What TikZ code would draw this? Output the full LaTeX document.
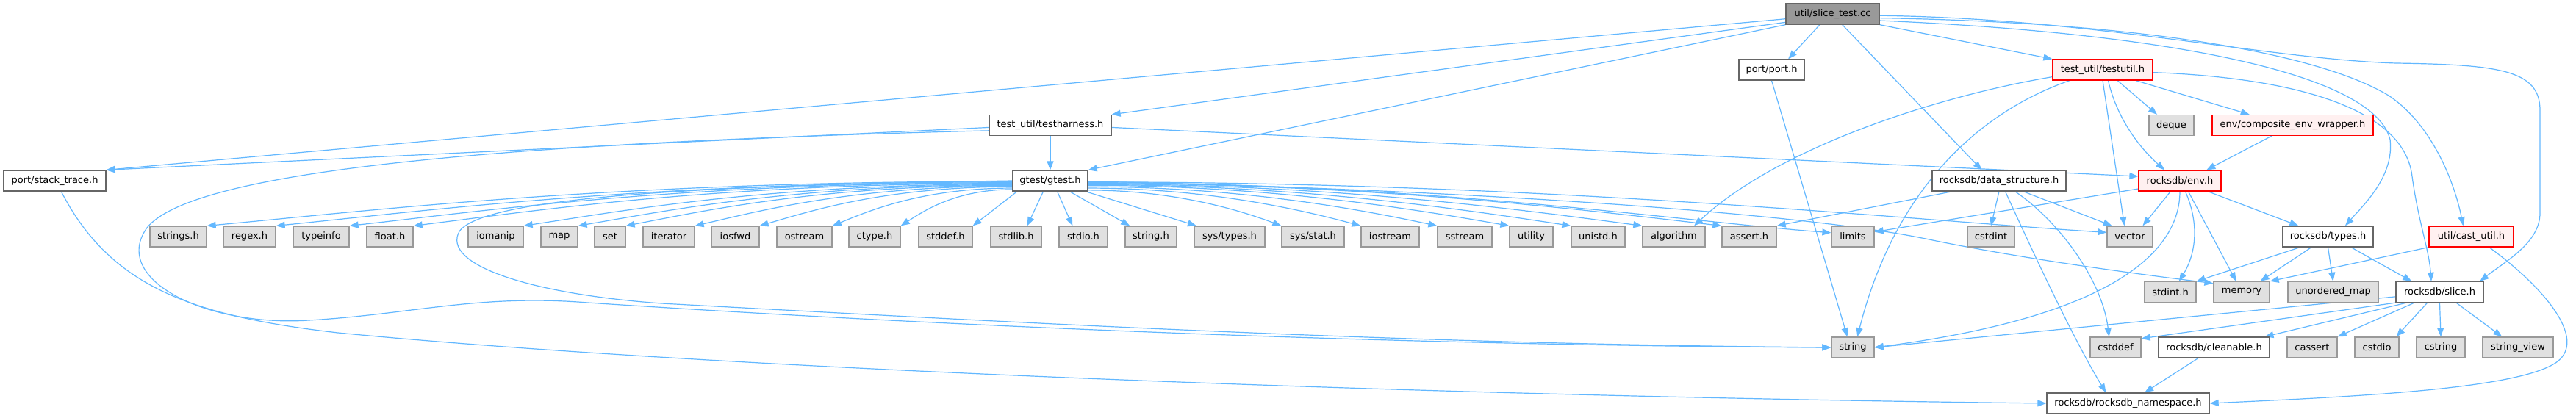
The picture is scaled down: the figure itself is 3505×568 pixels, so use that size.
\documentclass[tikz,border=0pt]{standalone}
\usepackage{fontspec}
\setmainfont{DejaVu Sans}
\usetikzlibrary{arrows.meta}
\definecolor{edgec}{HTML}{63B8FF}
\definecolor{greyfill}{HTML}{E0E0E0}
\definecolor{greyline}{HTML}{999999}
\definecolor{darkline}{HTML}{666666}
\definecolor{redfill}{HTML}{FFF0F0}
\definecolor{redline}{HTML}{FF0000}
\definecolor{rootfill}{HTML}{999999}
\pgfdeclarelayer{bg}
\pgfsetlayers{bg,main}
\begin{document}
\begin{tikzpicture}[x=1pt,y=-1pt,
 box/.style={rectangle, minimum height=28pt, inner sep=0pt, line width=1.3pt, font=\fontsize{13}{15}\selectfont, text=black},
 greybox/.style={box, fill=greyfill, draw=greyline},
 whitebox/.style={box, fill=white, draw=darkline},
 redbox/.style={box, fill=redfill, draw=redline},
 rootbox/.style={box, fill=rootfill, draw=darkline},
 edge/.style={draw=edgec, line width=1.2pt, -{Triangle[length=12pt,width=9pt]}}
]
\useasboundingbox (0,0) rectangle (3505,568);
% row 0
\node[rootbox, minimum width=127pt] (root) at (2493.5,19) {util/slice\_test.cc};
% row 1
\node[whitebox, minimum width=89pt] (port) at (2410.5,95) {port/port.h};
\node[redbox, minimum width=136pt] (testutil) at (2861,95) {test\_util/testutil.h};
% row 2
\node[whitebox, minimum width=166pt] (harness) at (1429,170.5) {test\_util/testharness.h};
\node[greybox, minimum width=61pt] (deque) at (2954.5,170.5) {deque};
\node[redbox, minimum width=219pt] (composite) at (3119.5,170.5) {env/composite\_env\_wrapper.h};
% row 3
\node[whitebox, minimum width=139pt] (stack) at (74.5,246) {port/stack\_trace.h};
\node[whitebox, minimum width=102pt] (gtest) at (1429,246) {gtest/gtest.h};
\node[whitebox, minimum width=182pt] (ds) at (2720,246) {rocksdb/data\_structure.h};
\node[redbox, minimum width=112pt] (env) at (2966,246) {rocksdb/env.h};
% row 4
\node[greybox, minimum width=77pt] (strings) at (242.5,322) {strings.h};
\node[greybox, minimum width=71pt] (regex) at (339.5,322) {regex.h};
\node[greybox, minimum width=76pt] (typeinfo) at (437,322) {typeinfo};
\node[greybox, minimum width=63pt] (floath) at (530.5,322) {float.h};
\node[greybox, minimum width=75pt] (iomanip) at (674.5,322) {iomanip};
\node[greybox, minimum width=50pt] (map) at (761,322) {map};
\node[greybox, minimum width=42pt] (set) at (830,322) {set};
\node[greybox, minimum width=70pt] (iterator) at (910,322) {iterator};
\node[greybox, minimum width=65pt] (iosfwd) at (1000.5,322) {iosfwd};
\node[greybox, minimum width=75pt] (ostream) at (1094.5,322) {ostream};
\node[greybox, minimum width=70pt] (ctype) at (1190,322) {ctype.h};
\node[greybox, minimum width=73pt] (stddef) at (1286.5,322) {stddef.h};
\node[greybox, minimum width=69pt] (stdlib) at (1382.5,322) {stdlib.h};
\node[greybox, minimum width=66pt] (stdio) at (1474,322) {stdio.h};
\node[greybox, minimum width=70pt] (stringh) at (1566,322) {string.h};
\node[greybox, minimum width=96pt] (systypes) at (1673,322) {sys/types.h};
\node[greybox, minimum width=85pt] (sysstat) at (1786.5,322) {sys/stat.h};
\node[greybox, minimum width=79pt] (iostream) at (1891.5,322) {iostream};
\node[greybox, minimum width=74pt] (sstream) at (1993,322) {sstream};
\node[greybox, minimum width=59pt] (utility) at (2083.5,322) {utility};
\node[greybox, minimum width=73pt] (unistd) at (2174.5,322) {unistd.h};
\node[greybox, minimum width=85pt] (algorithm) at (2277.5,322) {algorithm};
\node[greybox, minimum width=74pt] (asserth) at (2380,322) {assert.h};
\node[greybox, minimum width=58pt] (limits) at (2521,322) {limits};
\node[greybox, minimum width=64pt] (cstdint) at (2709,322) {cstdint};
\node[greybox, minimum width=62pt] (vector) at (2898,322) {vector};
\node[whitebox, minimum width=123pt] (types) at (3167.5,322) {rocksdb/types.h};
\node[redbox, minimum width=115pt] (cast) at (3362.5,322) {util/cast\_util.h};
% row 5
\node[greybox, minimum width=70pt] (stdint) at (2953,397.5) {stdint.h};
\node[greybox, minimum width=76pt] (memory) at (3050,397.5) {memory};
\node[greybox, minimum width=123pt] (umap) at (3174.5,397.5) {unordered\_map};
\node[whitebox, minimum width=119pt] (slice) at (3319.5,397.5) {rocksdb/slice.h};
% row 6
\node[greybox, minimum width=58pt] (string) at (2521,473) {string};
\node[greybox, minimum width=69pt] (cstddef) at (2878.5,473) {cstddef};
\node[whitebox, minimum width=151pt] (cleanable) at (3012.5,473) {rocksdb/cleanable.h};
\node[greybox, minimum width=68pt] (cassert) at (3146,473) {cassert};
\node[greybox, minimum width=60pt] (cstdio) at (3234,473) {cstdio};
\node[greybox, minimum width=66pt] (cstring) at (3321,473) {cstring};
\node[greybox, minimum width=96pt] (strview) at (3426,473) {string\_view};
% row 7
\node[whitebox, minimum width=221pt] (ns) at (2895.5,549) {rocksdb/rocksdb\_namespace.h};

\begin{pgfonlayer}{bg}
\fill[white] (0,0) rectangle (3505,568);
% util/slice_test.cc
\draw[edge] (root.186) -- (stack.north east);
\draw[edge] (root.190) -- (harness.north east);
\draw[edge] (root.south west) -- (gtest.north east);
\draw[edge] (root.220) -- (port.33);
\draw[edge] (root.312) -- (ds.148);
\draw[edge] (root.south east) -- (testutil.north west);
\draw[edge] (root.358) .. controls (2850,25) and (3080,80) .. (3260,86) .. controls (3400,88) and (3456,95) .. (3456,150) -- (3456,290) .. controls (3456,330) and (3410,355) .. (slice.15);
\draw[edge] (root.355) .. controls (2900,30) and (3150,70) .. (3250,130) .. controls (3310,170) and (3340,250) .. (cast.127);
\draw[edge] (root.352) .. controls (2950,45) and (3230,100) .. (3252,190) .. controls (3258,240) and (3215,280) .. (types.32);
% testharness
\draw[edge] (harness.182) -- (stack.north east);
\draw[edge] (harness.south) -- (gtest.north);
\draw[edge] (harness.358) -- (env.174);
\draw[edge] (harness.185) .. controls (650,195) and (260,235) .. (200,310) .. controls (150,380) and (280,445) .. (420,436) .. controls (560,428) and (650,400) .. (800,412) .. controls (1300,445) and (1900,470) .. (string.west);
% stack trace
\draw[edge] (stack.301) .. controls (150,390) and (260,430) .. (460,453) .. controls (1000,505) and (2000,540) .. (ns.west);
% gtest left fan
\draw[edge] (gtest.181) .. controls +(-549,0) and +(219,-20) .. (strings.north east);
\draw[edge] (gtest.182) .. controls +(-502,0) and +(201,-20) .. (regex.north east);
\draw[edge] (gtest.183) .. controls +(-452,0) and +(181,-20) .. (typeinfo.north east);
\draw[edge] (gtest.184) .. controls +(-408,0) and +(163,-20) .. (floath.north east);
\draw[edge] (gtest.185) .. controls +(-333,0) and +(133,-20) .. (iomanip.north east);
\draw[edge] (gtest.186) .. controls +(-296,0) and +(118,-20) .. (map.north east);
\draw[edge] (gtest.187) .. controls +(-264,0) and +(105,-20) .. (set.north east);
\draw[edge] (gtest.188) .. controls +(-217,0) and +(87,-20) .. (iterator.north east);
\draw[edge] (gtest.189) .. controls +(-173,0) and +(69,-20) .. (iosfwd.north east);
\draw[edge] (gtest.191) .. controls +(-123,0) and +(49,-20) .. (ostream.north east);
\draw[edge] (gtest.193) .. controls +(-77,0) and +(31,-20) .. (ctype.north east);
\draw[edge] (gtest.180) .. controls (1000,252) and (660,265) .. (625,315) .. controls (600,360) and (720,400) .. (900,413) .. controls (1400,440) and (1900,468) .. (string.west);
% gtest down
\draw[edge] (gtest.198) -- (stddef.north east);
\draw[edge] (gtest.237) -- (stdlib.44);
\draw[edge] (gtest.303) -- (stdio.135);
\draw[edge] (gtest.331) -- (stringh.153);
\draw[edge] (gtest.343) -- (systypes.162);
% gtest right fan
\draw[edge] (gtest.346) .. controls +(119,0) and +(-53,-20) .. (sysstat.north west);
\draw[edge] (gtest.349) .. controls +(167,0) and +(-74,-20) .. (iostream.north west);
\draw[edge] (gtest.351) .. controls +(214,0) and +(-95,-20) .. (sstream.north west);
\draw[edge] (gtest.353) .. controls +(258,0) and +(-115,-20) .. (utility.north west);
\draw[edge] (gtest.354) .. controls +(296,0) and +(-132,-20) .. (unistd.north west);
\draw[edge] (gtest.355) .. controls +(340,0) and +(-151,-20) .. (algorithm.north west);
\draw[edge] (gtest.356) .. controls +(388,0) and +(-173,-20) .. (asserth.north west);
\draw[edge] (gtest.357) .. controls +(455,0) and +(-200,-15) .. (limits.170);
\draw[edge] (gtest.358) .. controls +(620,0) and +(-280,-18) .. (vector.170);
\draw[edge] (gtest.359) .. controls (2000,258) and (2450,290) .. (2620,325) .. controls (2750,352) and (2900,372) .. (memory.163);
% port
\draw[edge] (port.south) -- (string.117);
% testutil
\draw[edge] (testutil.188) .. controls (2640,130) and (2420,200) .. (algorithm.28);
\draw[edge] (testutil.198) .. controls (2700,150) and (2580,250) .. (string.67);
\draw[edge] (testutil.south) -- (vector.117);
\draw[edge] (testutil.297) .. controls (2880,160) and (2910,200) .. (env.145);
\draw[edge] (testutil.324) -- (deque.143);
\draw[edge] (testutil.342) -- (composite.166);
\draw[edge] (testutil.357) .. controls (3100,105) and (3270,140) .. (3282,240) .. controls (3290,300) and (3305,340) .. (slice.128);
% composite
\draw[edge] (composite.207) -- (env.22);
% data_structure
\draw[edge] (ds.193) -- (asserth.north east);
\draw[edge] (ds.south) -- (cstdint.north);
\draw[edge] (ds.336) -- (vector.149);
\draw[edge] (ds.326) .. controls (2800,300) and (2860,380) .. (cstddef.121);
\draw[edge] (ds.300) .. controls (2760,330) and (2820,460) .. (ns.154);
% env
\draw[edge] (env.191) -- (limits.12);
\draw[edge] (env.229) -- (vector.40);
\draw[edge] (env.south) .. controls (2966,340) and (2880,430) .. (string.east);
\draw[edge] (env.297) .. controls (2995,310) and (2985,350) .. (stdint.51);
\draw[edge] (env.308) -- (memory.117);
\draw[edge] (env.339) -- (types.160);
% types
\draw[edge] (types.201) -- (stdint.north east);
\draw[edge] (types.213) -- (memory.30);
\draw[edge] (types.south) -- (umap.north);
\draw[edge] (types.335) -- (slice.159);
% cast_util
\draw[edge] (cast.south west) -- (memory.north east);
\draw[edge] (cast.329) .. controls (3460,390) and (3520,460) .. (3480,492) .. controls (3430,530) and (3200,540) .. (ns.east);
% slice
\draw[edge] (slice.186) -- (string.east);
\draw[edge] (slice.south west) -- (cstddef.19);
\draw[edge] (slice.198) -- (cleanable.12);
\draw[edge] (slice.203) -- (cassert.north east);
\draw[edge] (slice.221) -- (cstdio.29);
\draw[edge] (slice.south) -- (cstring.north);
\draw[edge] (slice.327) -- (strview.146);
% cleanable
\draw[edge] (cleanable.214) -- (ns.33);
\end{pgfonlayer}
\end{tikzpicture}
\end{document}
